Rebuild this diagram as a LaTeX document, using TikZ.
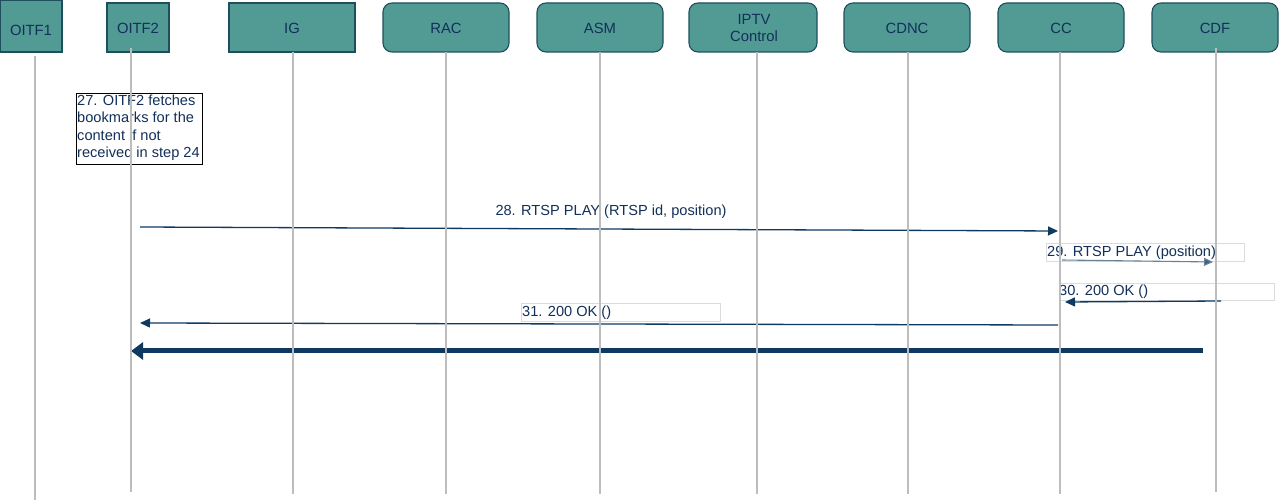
\documentclass[tikz,border=0pt]{standalone}
\usepackage{fontspec}
\setmainfont{Liberation Sans}
\usetikzlibrary{arrows.meta}
\definecolor{boxfill}{HTML}{529A94}
\definecolor{boxedge}{HTML}{1E4F5E}
\definecolor{txt}{HTML}{12305A}
\definecolor{arr}{HTML}{0E3A62}
\definecolor{arrlight}{HTML}{6A8296}
\definecolor{life}{HTML}{BDBDBD}
\definecolor{lbledge}{HTML}{DCDCDC}
\tikzset{
  actor/.style={draw=boxedge, line width=1.1pt, fill=boxfill},
  sqactor/.style={actor},
  rdactor/.style={actor, rounded corners=9pt},
  lifeline/.style={draw=life, line width=1.8pt},
  msg/.style={draw=arr, line width=1.3pt, -{Triangle[length=10pt,width=9pt]}},
  msglight/.style={draw=arrlight, line width=1.1pt, -{Triangle[length=9pt,width=8pt,fill=arr!80]}},
  bigmsg/.style={draw=arr, line width=5pt, -{Triangle[length=12pt,width=17pt]}},
  lbl/.style={text=txt, font=\fontsize{14.6}{16}\selectfont, inner sep=0pt},
  hdr/.style={text=txt, font=\fontsize{14.8}{16.5}\selectfont, inner sep=0pt, align=center},
  lblbox/.style={draw=lbledge, line width=0.8pt, fill=white, inner sep=0pt},
  notebox/.style={draw=black, line width=1pt, fill=white}
}
\begin{document}
\begin{tikzpicture}[x=1pt, y=-1pt]
\useasboundingbox[fill=white] (0,0) rectangle (1280,502);
% actors
\draw[sqactor] (0,0) rectangle (62,52);
\node[hdr] (oitf1) at (31,30) {OITF1};
\draw[sqactor] (107,3) rectangle (169,52);
\node[hdr] (oitf2) at (138,28) {OITF2};
\draw[sqactor] (229,3) rectangle (355,52);
\node[hdr] (ig) at (292,28) {IG};
\draw[rdactor] (383,3) rectangle (509,52);
\node[hdr] (rac) at (446,28) {RAC};
\draw[rdactor] (537,3) rectangle (663,52);
\node[hdr] (asm) at (600,28) {ASM};
\draw[rdactor] (689,3) rectangle (817,52);
\node[hdr] (iptv) at (754,28) {IPTV\\Control};
\draw[rdactor] (844,3) rectangle (970,52);
\node[hdr] (cdnc) at (907,28) {CDNC};
\draw[rdactor] (998,3) rectangle (1124,52);
\node[hdr] (cc) at (1061,28) {CC};
\draw[rdactor] (1152,3) rectangle (1278,52);
\node[hdr] (cdf) at (1215,28) {CDF};
% note
\node[notebox, anchor=north west, minimum width=126pt, minimum height=71pt, inner sep=0pt] (note) at (76,93) {};
\node[lbl, anchor=north west, align=left, font=\fontsize{14.6}{17.2}\selectfont] (notetext) at (77,95)
  {27. OITF2 fetches\\bookmarks for the\\content if not\\received in step 24};
% message coordinates
\coordinate (m28s) at (140,227);
\coordinate (m28e) at (1058,231);
\coordinate (m29s) at (1062,260);
\coordinate (m29e) at (1213,262);
\coordinate (m30s) at (1221,301);
\coordinate (m30e) at (1065,302);
\coordinate (m31s) at (1058,325);
\coordinate (m31e) at (140,323);
\coordinate (m32s) at (1203,351);
\coordinate (m32e) at (131,351);
% labels
\node[lbl] (l28) at (611,212) {28. RTSP PLAY (RTSP id, position)};
\node[lblbox, anchor=north west, minimum width=198pt, minimum height=18pt] (b29) at (1046,243) {};
\node[lbl, anchor=west] (l29) at (1047,252.5) {29. RTSP PLAY (position)};
\node[lblbox, anchor=north west, minimum width=215pt, minimum height=17pt] (b30) at (1059,283) {};
\node[lbl, anchor=west] (l30) at (1059,292) {30. 200 OK ()};
\node[lblbox, anchor=north west, minimum width=199pt, minimum height=18pt] (b31) at (521,303) {};
\node[lbl, anchor=west] (l31) at (522,312.5) {31. 200 OK ()};
% messages
\draw[msg] (m28s) -- (m28e);
\draw[msglight] (m29s) -- (m29e);
\draw[msg] (m30s) -- (m30e);
\draw[msg] (m31s) -- (m31e);
\draw[bigmsg] (m32s) -- (m32e);
% lifelines (drawn on top)
\coordinate (t1) at (35,56);   \coordinate (e1) at (35,500);
\coordinate (t2) at (131,48);  \coordinate (e2) at (131,492);
\coordinate (t3) at (293,52);  \coordinate (e3) at (293,494);
\coordinate (t4) at (446,52);  \coordinate (e4) at (446,494);
\coordinate (t5) at (600,52);  \coordinate (e5) at (600,494);
\coordinate (t6) at (757,52);  \coordinate (e6) at (757,494);
\coordinate (t7) at (908,52);  \coordinate (e7) at (908,494);
\coordinate (t8) at (1060,52); \coordinate (e8) at (1060,494);
\coordinate (t9) at (1216,48); \coordinate (e9) at (1216,492);
\foreach \i in {1,...,9} { \draw[lifeline] (t\i) -- (e\i); }
\end{tikzpicture}
\end{document}
